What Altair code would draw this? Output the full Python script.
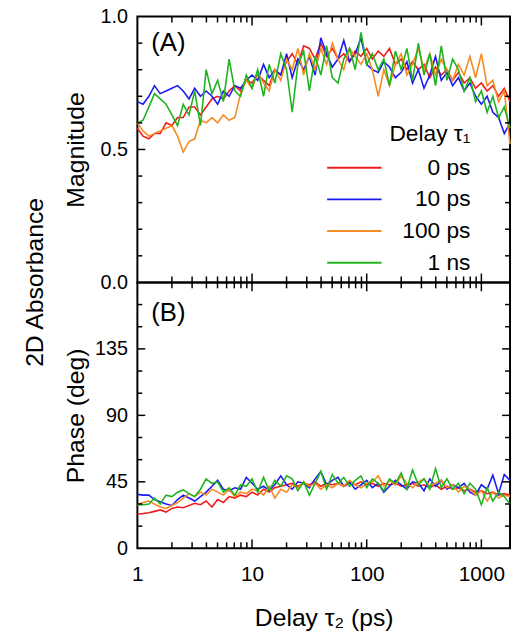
import altair as alt
import pandas as pd

FONT = "Liberation Sans"
SERIES = ["0 ps", "10 ps", "100 ps", "1 ns"]
COLORS = ["#f01c1c", "#1c1cf0", "#f78a22", "#1fb41f"]

TAU2 = [1, 1.12, 1.26, 1.41, 1.58, 1.78, 2.0, 2.24, 2.51, 2.82,
        3.16, 3.55, 3.98, 4.47, 5.01, 5.62, 6.31, 7.08, 7.94, 8.91,
        10.0, 11.2, 12.6, 14.1, 15.8, 17.8, 20.0, 22.4, 25.1, 28.2,
        31.6, 35.5, 39.8, 44.7, 50.1, 56.2, 63.1, 70.8, 79.4, 89.1,
        100, 112, 126, 141, 158, 178, 200, 224, 251, 282,
        316, 355, 398, 447, 501, 562, 631, 708, 794, 891,
        1000, 1122, 1259, 1413, 1585, 1778]

MAG_0PS = [0.58, 0.55, 0.54, 0.56, 0.56, 0.60, 0.59, 0.62, 0.62, 0.66,
           0.66, 0.63, 0.66, 0.69, 0.70, 0.69, 0.72, 0.74, 0.72, 0.76,
           0.75, 0.78, 0.76, 0.74, 0.80, 0.78, 0.83, 0.86, 0.82, 0.89,
           0.88, 0.84, 0.90, 0.85, 0.88, 0.84, 0.86, 0.83, 0.87, 0.85,
           0.88, 0.84, 0.87, 0.85, 0.88, 0.82, 0.84, 0.80, 0.83, 0.80,
           0.82, 0.77, 0.81, 0.78, 0.80, 0.76, 0.79, 0.75, 0.77, 0.73,
           0.75, 0.72, 0.74, 0.70, 0.73, 0.68]
MAG_10PS = [0.68, 0.67, 0.70, 0.74, 0.71, 0.72, 0.73, 0.74, 0.72, 0.69,
            0.73, 0.70, 0.72, 0.70, 0.67, 0.72, 0.70, 0.74, 0.73, 0.76,
            0.78, 0.76, 0.82, 0.77, 0.80, 0.78, 0.86, 0.77, 0.84, 0.80,
            0.85, 0.78, 0.92, 0.86, 0.81, 0.84, 0.91, 0.83, 0.86, 0.92,
            0.82, 0.80, 0.79, 0.83, 0.81, 0.77, 0.79, 0.83, 0.75, 0.80,
            0.73, 0.78, 0.85, 0.76, 0.79, 0.74, 0.77, 0.72, 0.75, 0.70,
            0.67, 0.70, 0.64, 0.62, 0.56, 0.60]
MAG_100PS = [0.60, 0.57, 0.55, 0.56, 0.57, 0.58, 0.59, 0.55, 0.49, 0.53,
             0.54, 0.61, 0.60, 0.62, 0.60, 0.63, 0.61, 0.62, 0.71, 0.76,
             0.73, 0.79, 0.75, 0.72, 0.80, 0.76, 0.84, 0.80, 0.88, 0.78,
             0.86, 0.80, 0.88, 0.82, 0.90, 0.84, 0.80, 0.88, 0.85, 0.82,
             0.86, 0.80, 0.70, 0.80, 0.74, 0.82, 0.86, 0.78, 0.82, 0.88,
             0.80, 0.86, 0.78, 0.84, 0.80, 0.76, 0.82, 0.78, 0.85, 0.77,
             0.86, 0.74, 0.76, 0.68, 0.72, 0.52]
MAG_1NS = [0.60, 0.61, 0.66, 0.71, 0.69, 0.67, 0.63, 0.59, 0.67, 0.63,
           0.72, 0.59, 0.80, 0.71, 0.76, 0.68, 0.84, 0.72, 0.70, 0.78,
           0.73, 0.80, 0.70, 0.82, 0.75, 0.86, 0.80, 0.64, 0.82, 0.87,
           0.72, 0.85, 0.78, 0.89, 0.77, 0.75, 0.84, 0.88, 0.80, 0.94,
           0.82, 0.86, 0.80, 0.84, 0.74, 0.87, 0.80, 0.88, 0.76, 0.90,
           0.78, 0.86, 0.74, 0.89, 0.76, 0.84, 0.80, 0.72, 0.77, 0.68,
           0.72, 0.64, 0.70, 0.62, 0.66, 0.58]

PH_0PS = [23, 23.5, 24, 25, 26, 24.5, 27, 28, 27.5, 29,
          30.5, 29.5, 32, 28, 33, 31, 35, 34, 36, 35,
          38, 36, 40, 38, 41, 42, 43, 44, 42, 44,
          43, 45, 42, 44, 43, 44, 42, 44, 43, 45,
          43, 44, 42, 44, 43, 44, 42, 43, 44, 42,
          43, 41, 43, 40, 42, 40, 41, 39, 40, 38,
          39, 37, 38, 36, 37, 36]
PH_10PS = [36.5, 36, 36, 33, 31.5, 30, 29, 33, 36, 34,
           32, 35, 38, 42, 46, 40, 39, 41, 40, 48,
           44, 40, 42, 39, 43, 49, 43, 40, 45, 44,
           41, 47, 52, 43, 46, 48, 42, 45, 40, 43,
           46, 41, 44, 38, 42, 46, 43, 40, 45, 44,
           39, 47, 42, 46, 40, 43, 41, 44, 38, 36,
           43, 40, 49.5, 37, 50, 46]
PH_100PS = [29.5, 31, 32, 30, 28, 27, 29, 31, 34, 37,
            35, 38, 36, 40, 38, 36, 40, 35, 38, 37,
            40, 39, 36, 42, 34, 40, 38, 43, 41, 45,
            42, 44, 40, 43, 41, 44, 42, 46, 43, 41,
            44, 45, 49, 42, 46, 43, 49, 44, 41, 45,
            47, 42, 44, 46, 41, 43, 38, 42, 40, 36,
            39, 32, 38, 34, 36, 35]
PH_1NS = [29.5, 29.5, 30, 34, 30, 36, 35, 38, 39.5, 37,
          35, 40, 47, 44, 45, 38, 41, 36, 43, 42,
          47, 38, 48, 39, 46, 42, 49, 47, 39, 45,
          36, 44, 52, 40, 50, 44, 48, 42, 46, 49,
          41, 47, 44, 39, 47, 44, 51, 40, 53, 43,
          47, 40, 54, 41, 47, 40, 44, 37, 44, 40,
          29.5, 41, 32, 38, 35, 30]

X_LABELS = [1, 10, 100, 1000]
X_MAJOR = [10, 100, 1000]
X_MINOR = [2, 3, 4, 5, 6, 7, 8, 9, 20, 30, 40, 50, 60, 70, 80, 90,
           200, 300, 400, 500, 600, 700, 800, 900]
MAG_LABELS = [0.0, 0.5, 1.0]
MAG_MAJOR = [0.5]
MAG_MINOR = [0.1, 0.2, 0.3, 0.4, 0.6, 0.7, 0.8, 0.9]
PH_LABELS = [0, 45, 90, 135]
PH_MAJOR = [45, 90, 135]
PH_MINOR = [15, 30, 60, 75, 105, 120, 150, 165]

rows = []
for name, mag, ph in zip(SERIES, [MAG_0PS, MAG_10PS, MAG_100PS, MAG_1NS],
                         [PH_0PS, PH_10PS, PH_100PS, PH_1NS]):
    for x, m, p in zip(TAU2, mag, ph):
        rows.append({"series": name, "tau2": x, "mag": m, "phase": p})
df = pd.DataFrame(rows)

W, H = 377, 269
xscale = alt.Scale(type="log", domain=[1, 1778], nice=False)
color = alt.Color("series:N", scale=alt.Scale(domain=SERIES, range=COLORS),
                  legend=alt.Legend(title="Delay τ₁", orient="none", legendX=191, legendY=108,
                                    symbolType="stroke", symbolSize=3025, symbolStrokeWidth=2,
                                    labelAlign="right", labelOffset=89, labelFontSize=23,
                                    labelFont=FONT, titleFont=FONT, titleFontSize=23,
                                    titleFontWeight="normal", titleAnchor="end",
                                    clipHeight=32, rowPadding=0, titlePadding=6, padding=0,
                                    labelColor="black", titleColor="black"))


def tick_rules(vals, chan, scale, axis, length, side):
    d = pd.DataFrame({"v": vals})
    base = alt.Chart(d).mark_rule(color="black", strokeWidth=1.5)
    if chan == "x":
        enc = dict(x=alt.X("v:Q", scale=scale, axis=axis))
        if side == "bottom":
            enc.update(y=alt.value(H), y2=alt.value(H - length))
        else:
            enc.update(y=alt.value(0), y2=alt.value(length))
    else:
        enc = dict(y=alt.Y("v:Q", scale=scale, axis=axis))
        if side == "left":
            enc.update(x=alt.value(0), x2=alt.value(length))
        else:
            enc.update(x=alt.value(W), x2=alt.value(W - length))
    return base.encode(**enc)


def panel(field, ydom, ylabels, yfmt, ymajor, yminor, ytitle, letter, letter_y, bottom):
    yscale = alt.Scale(domain=ydom, nice=False, zero=False)
    yaxis = alt.Axis(values=ylabels, format=yfmt, title=ytitle, ticks=False, tickSize=0,
                     domain=False, grid=False, labelPadding=10, labelFontSize=20,
                     labelFont=FONT, labelColor="black", labelFlush=False,
                     titleFont=FONT, titleFontSize=25, titleFontWeight="normal",
                     titleColor="black", titleX=-55, titleBaseline="alphabetic")
    if bottom:
        xaxis = alt.Axis(values=X_LABELS, format="d", title="Delay τ₂ (ps)", ticks=False,
                         tickSize=0, domain=False, grid=False, labelPadding=16,
                         labelFontSize=21, labelFont=FONT, labelColor="black",
                         labelFlush=False, labelOverlap=False, titleFont=FONT,
                         titleFontSize=25, titleFontWeight="normal", titleColor="black",
                         titleY=78, titleBaseline="alphabetic")
    else:
        xaxis = None
    lines = alt.Chart(df).mark_line(strokeWidth=1.6).encode(
        x=alt.X("tau2:Q", scale=xscale, axis=xaxis),
        y=alt.Y(f"{field}:Q", scale=yscale, axis=yaxis),
        color=color,
        detail="series:N",
    )
    layers = [lines]
    for side in ["bottom", "top"]:
        layers.append(tick_rules(X_MAJOR, "x", xscale, xaxis, 9, side))
        layers.append(tick_rules(X_MINOR, "x", xscale, xaxis, 6, side))
    for side in ["left", "right"]:
        layers.append(tick_rules(ymajor, "y", yscale, yaxis, 8, side))
        layers.append(tick_rules(yminor, "y", yscale, yaxis, 5, side))
    lab = alt.Chart(pd.DataFrame({"label": [letter]})).mark_text(
        font=FONT, fontSize=26, align="left", baseline="middle", color="black"
    ).encode(x=alt.value(14), y=alt.value(letter_y), text="label:N")
    layers.append(lab)
    if not bottom:
        side_title = alt.Chart(pd.DataFrame({"label": ["2D Absorbance"]})).mark_text(
            font=FONT, fontSize=25, angle=270, align="center", baseline="middle", color="black"
        ).encode(x=alt.value(-103), y=alt.value(H), text="label:N")
        layers.append(side_title)
    return alt.layer(*layers).properties(width=W, height=H)


top = panel("mag", [0, 1], MAG_LABELS, ".1f", MAG_MAJOR, MAG_MINOR, "Magnitude", "(A)", 27, False)
bot = panel("phase", [0, 180], PH_LABELS, "d", PH_MAJOR, PH_MINOR, "Phase (deg)", "(B)", 31, True)

chart = alt.vconcat(top, bot, spacing=0, bounds="flush").properties(
    padding={"left": 23, "top": 2, "right": -3, "bottom": 0},
    background="white",
).configure_view(stroke="black", strokeWidth=2)

chart.save("out.html", embed_options={"renderer": "svg", "actions": False})
